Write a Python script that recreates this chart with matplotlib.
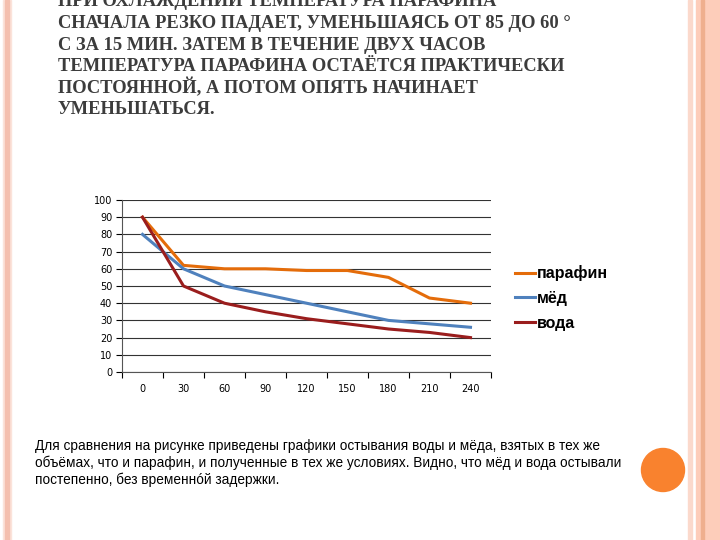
import matplotlib
matplotlib.use("Agg")
import matplotlib.pyplot as plt
from matplotlib.patches import Rectangle, Ellipse

# данные графика
minutes = ['0', '30', '60', '90', '120', '150', '180', '210', '240']
paraffin = [90, 62, 60, 60, 59, 59, 55, 43, 40]
honey = [80, 60, 50, 45, 40, 35, 30, 28, 26]
water = [90, 50, 40, 35, 31, 28, 25, 23, 20]
series_names = ['парафин', 'мёд', 'вода']

title_lines = [
    'ПРИ ОХЛАЖДЕНИИ ТЕМПЕРАТУРА ПАРАФИНА',
    'СНАЧАЛА РЕЗКО ПАДАЕТ, УМЕНЬШАЯСЬ ОТ 85 ДО 60 °',
    'С ЗА 15 МИН. ЗАТЕМ В ТЕЧЕНИЕ ДВУХ ЧАСОВ',
    'ТЕМПЕРАТУРА ПАРАФИНА ОСТАЁТСЯ ПРАКТИЧЕСКИ',
    'ПОСТОЯННОЙ, А ПОТОМ ОПЯТЬ НАЧИНАЕТ',
    'УМЕНЬШАТЬСЯ.',
]
note = ('Для сравнения на рисунке приведены графики остывания воды и мёда, взятых в тех же\n'
        'объёмах, что и парафин, и полученные в тех же условиях. Видно, что мёд и вода остывали\n'
        'постепенно, без временнóй задержки.')

W, H = 720, 540
fig = plt.figure(figsize=(7.2, 5.4), dpi=100)
fig.patch.set_facecolor('white')

def px(x, y):
    return x / W, 1 - y / H

# рамка слайда
fig.patches.append(Rectangle((3 / W, 0), 8 / W, 1, transform=fig.transFigure,
                             color='#FBE3DA', zorder=0))
fig.patches.append(Rectangle((5 / W, 0), 4 / W, 1, transform=fig.transFigure,
                             color='#F4BFAE', zorder=0))
fig.patches.append(Rectangle((688 / W, 0), 4 / W, 1, transform=fig.transFigure,
                             color='#FBD9CC', zorder=0))
fig.patches.append(Rectangle((696 / W, 0), 24 / W, 1, transform=fig.transFigure,
                             color='#FDCDBA', zorder=0))
fig.patches.append(Rectangle((701 / W, 0), 3 / W, 1, transform=fig.transFigure,
                             color='#EFAF8E', zorder=0))
fig.patches.append(Ellipse(px(663, 470), 43 / W, 43 / H, transform=fig.transFigure,
                           color='#F9822E', zorder=1))

# заголовок
for i, line in enumerate(title_lines):
    x, y = px(58, 2 + i * 21.5)
    fig.text(x, y, line, family='Liberation Serif', weight='bold', fontsize=13.3,
             color='#3C3C3C', va='center', ha='left')

fig.text(*px(35, 463), note, family='Liberation Sans', fontsize=9.85, color='black',
         va='center', ha='left', linespacing=1.22)

# график
ax = fig.add_axes([122 / W, 1 - 372 / H, 369 / W, 172 / H])
xs = range(len(minutes))
colors = ['#E46C0A', '#4F81BD', '#9A1D1D']
for vals, name, c in zip([paraffin, honey, water], series_names, colors):
    ax.plot(xs, vals, color=c, lw=2.2, label=name, solid_joinstyle='round')

ax.set_xlim(-0.5, len(minutes) - 0.5)
ax.set_ylim(0, 100)
ax.set_yticks(range(0, 101, 10))
ax.set_xticks(list(xs))
ax.set_xticklabels(minutes)
ax.set_xticks([i - 0.5 for i in range(len(minutes) + 1)], minor=True)
ax.tick_params(axis='x', which='major', length=0, pad=9, labelsize=7)
ax.tick_params(axis='x', which='minor', length=4, direction='out', width=0.8)
ax.tick_params(axis='y', length=4, width=0.8, labelsize=7, pad=3)
ax.grid(axis='y', color='#333333', lw=0.8)
for s in ['top', 'right']:
    ax.spines[s].set_visible(False)
ax.spines['left'].set_color('#555555')
ax.spines['bottom'].set_color('#555555')
ax.set_axisbelow(True)

leg = fig.legend(loc='center left', bbox_to_anchor=px(501, 298), frameon=False,
                 handlelength=1.25, handletextpad=0.1, labelspacing=0.6,
                 prop={'family': 'Liberation Sans', 'size': 11.5, 'weight': 'bold'})

fig.savefig('out.png', dpi=100)
